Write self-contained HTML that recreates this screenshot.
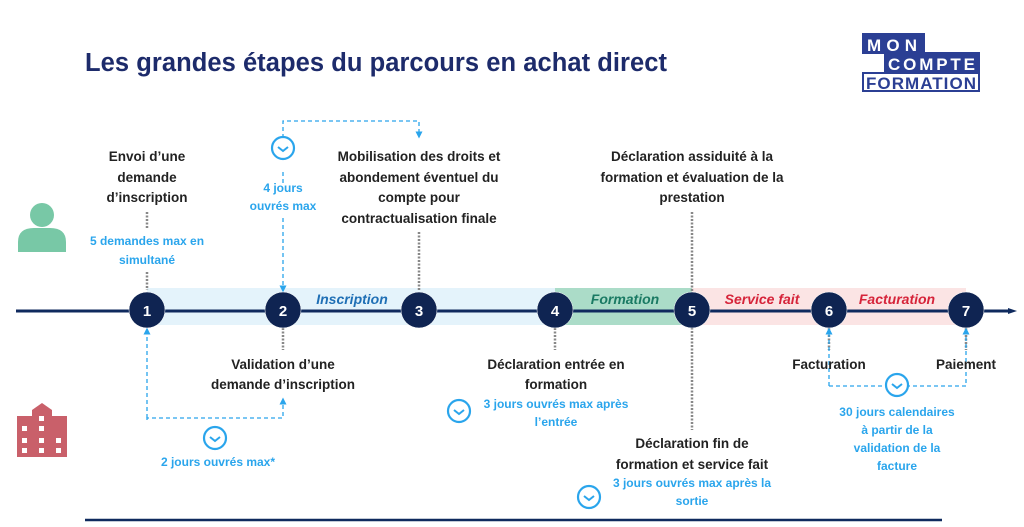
<!DOCTYPE html>
<html><head><meta charset="utf-8"><style>
body{margin:0;background:#fff;}
svg{display:block;font-family:"Liberation Sans",sans-serif;}
.b{font-size:13.5px;font-weight:bold;fill:#222;text-anchor:middle;}
.c{font-size:12px;font-weight:bold;fill:#2aa5ec;text-anchor:middle;}
.n{font-size:15px;font-weight:bold;fill:#fff;text-anchor:middle;}
.l{font-size:14px;font-weight:bold;font-style:italic;text-anchor:middle;}
</style></head><body>
<svg width="1024" height="527" viewBox="0 0 1024 527">
<defs>
<marker id="ar" markerUnits="userSpaceOnUse" markerWidth="7" markerHeight="7" refX="3.5" refY="3.5" orient="auto"><path d="M0,0 L7,3.5 L0,7z" fill="#2aa5ec"/></marker>
<marker id="am" markerUnits="userSpaceOnUse" markerWidth="9" markerHeight="8" refX="4" refY="4" orient="auto"><path d="M0,1 L9,4 L0,7z" fill="#0f2a5e"/></marker>
<g id="clk"><circle r="11" fill="#fff" stroke="#2aa5ec" stroke-width="2.2"/><path d="M-5,-1 L0,3 L5,-1" fill="none" stroke="#2aa5ec" stroke-width="2"/></g>
</defs>
<text x="85" y="71" font-size="25.5" font-weight="bold" fill="#1d2b6b" textLength="582">Les grandes étapes du parcours en achat direct</text>
<!-- logo -->
<rect x="862" y="33" width="63" height="21" fill="#2b3f94"/>
<rect x="884" y="52" width="96" height="21" fill="#2b3f94"/>
<rect x="863" y="73" width="116" height="18" fill="#fff" stroke="#2b3f94" stroke-width="2"/>
<text x="867" y="51" font-size="17" font-weight="bold" fill="#fff" textLength="50">MON</text>
<text x="888" y="70" font-size="17" font-weight="bold" fill="#fff" textLength="87">COMPTE</text>
<text x="866" y="89" font-size="17" font-weight="bold" fill="#2b3f94" textLength="110">FORMATION</text>
<!-- icons -->
<circle cx="42" cy="215" r="12" fill="#78c8a6"/>
<path d="M18,252 L18,242 Q18,228 34,228 L50,228 Q66,228 66,242 L66,252z" fill="#78c8a6"/>
<g fill="#c9606a"><rect x="17" y="416" width="50" height="41"/><rect x="32" y="410" width="20" height="10"/><path d="M32,410 L42,403 L52,410z"/></g>
<g fill="#fff"><rect x="22" y="426" width="5" height="5"/><rect x="39" y="426" width="5" height="5"/><rect x="39" y="416" width="5" height="5"/><rect x="22" y="438" width="5" height="5"/><rect x="39" y="438" width="5" height="5"/><rect x="56" y="438" width="5" height="5"/><rect x="22" y="448" width="5" height="5"/><rect x="39" y="448" width="5" height="5"/><rect x="56" y="448" width="5" height="5"/></g>
<!-- bands -->
<rect x="147" y="288" width="408" height="37" fill="#e4f3fb"/>
<rect x="555" y="288" width="137" height="37" fill="#abdcc8"/>
<rect x="692" y="288" width="274" height="37" fill="#fbe4e4"/>
<line x1="16" y1="311" x2="1012" y2="311" stroke="#0f2a5e" stroke-width="3" marker-end="url(#am)"/>
<text class="l" x="352" y="304" fill="#1f6fb5">Inscription</text>
<text class="l" x="625" y="304" fill="#1a7a63">Formation</text>
<text class="l" x="762" y="304" fill="#d6243a">Service fait</text>
<text class="l" x="897" y="304" fill="#d6243a">Facturation</text>
<!-- dotted gray -->
<g stroke="#888" stroke-width="2.5" stroke-dasharray="2,1.5">
<line x1="147" y1="212" x2="147" y2="228"/><line x1="147" y1="272" x2="147" y2="290"/>
<line x1="419" y1="232" x2="419" y2="290"/>
<line x1="283" y1="328" x2="283" y2="350"/><line x1="555" y1="328" x2="555" y2="350"/>
<line x1="692" y1="212" x2="692" y2="430"/>
<line x1="829" y1="328" x2="829" y2="350"/><line x1="966" y1="328" x2="966" y2="350"/>
</g>
<!-- blue dashed -->
<g stroke="#2aa5ec" stroke-width="1.3" stroke-dasharray="4,3" fill="none">
<polyline points="283,138 283,121 419,121 419,135" marker-end="url(#ar)"/>
<polyline points="283,172 283,183"/>
<line x1="283" y1="218" x2="283" y2="289" marker-end="url(#ar)"/>
<polyline points="147,420 147,418 283,418 283,401" marker-end="url(#ar)"/>
<line x1="147" y1="418" x2="147" y2="331" marker-end="url(#ar)"/>
<line x1="829" y1="386" x2="829" y2="331" marker-end="url(#ar)"/>
<polyline points="829,386 966,386 966,331" marker-end="url(#ar)"/>
</g>
<use href="#clk" x="283" y="148"/><use href="#clk" x="215" y="438"/>
<use href="#clk" x="459" y="411"/><use href="#clk" x="589" y="497"/>
<use href="#clk" x="897" y="385"/>
<!-- circles -->
<g fill="#0f2452" stroke="#fff" stroke-width="0.5">
<circle cx="147" cy="310" r="18"/><circle cx="283" cy="310" r="18"/><circle cx="419" cy="310" r="18"/>
<circle cx="555" cy="310" r="18"/><circle cx="692" cy="310" r="18"/><circle cx="829" cy="310" r="18"/><circle cx="966" cy="310" r="18"/>
</g>
<text class="n" x="147" y="316">1</text><text class="n" x="283" y="316">2</text><text class="n" x="419" y="316">3</text>
<text class="n" x="555" y="316">4</text><text class="n" x="692" y="316">5</text><text class="n" x="829" y="316">6</text><text class="n" x="966" y="316">7</text>
<!-- texts -->
<text class="b" x="147" y="161">Envoi d’une</text><text class="b" x="147" y="182">demande</text><text class="b" x="147" y="202">d’inscription</text>
<text class="c" x="147" y="245">5 demandes max en</text><text class="c" x="147" y="264">simultané</text>
<text class="c" x="283" y="192">4 jours</text><text class="c" x="283" y="210">ouvrés max</text>
<text class="b" x="419" y="161">Mobilisation des droits et</text><text class="b" x="419" y="182">abondement éventuel du</text><text class="b" x="419" y="202">compte pour</text><text class="b" x="419" y="223">contractualisation finale</text>
<text class="b" x="692" y="161">Déclaration assiduité à la</text><text class="b" x="692" y="182">formation et évaluation de la</text><text class="b" x="692" y="202">prestation</text>
<text class="b" x="283" y="369">Validation d’une</text><text class="b" x="283" y="389">demande d’inscription</text>
<text class="c" x="218" y="466">2 jours ouvrés max*</text>
<text class="b" x="556" y="369">Déclaration entrée en</text><text class="b" x="556" y="389">formation</text>
<text class="c" x="556" y="408">3 jours ouvrés max après</text><text class="c" x="556" y="426">l’entrée</text>
<text class="b" x="692" y="448">Déclaration fin de</text><text class="b" x="692" y="469">formation et service fait</text>
<text class="c" x="692" y="487">3 jours ouvrés max après la</text><text class="c" x="692" y="505">sortie</text>
<text class="b" x="829" y="369">Facturation</text><text class="b" x="966" y="369">Paiement</text>
<text class="c" x="897" y="416">30 jours calendaires</text><text class="c" x="897" y="434">à partir de la</text><text class="c" x="897" y="452">validation de la</text><text class="c" x="897" y="470">facture</text>
<line x1="85" y1="520" x2="942" y2="520" stroke="#0f2a5e" stroke-width="2.5"/>
</svg>
</body></html>
